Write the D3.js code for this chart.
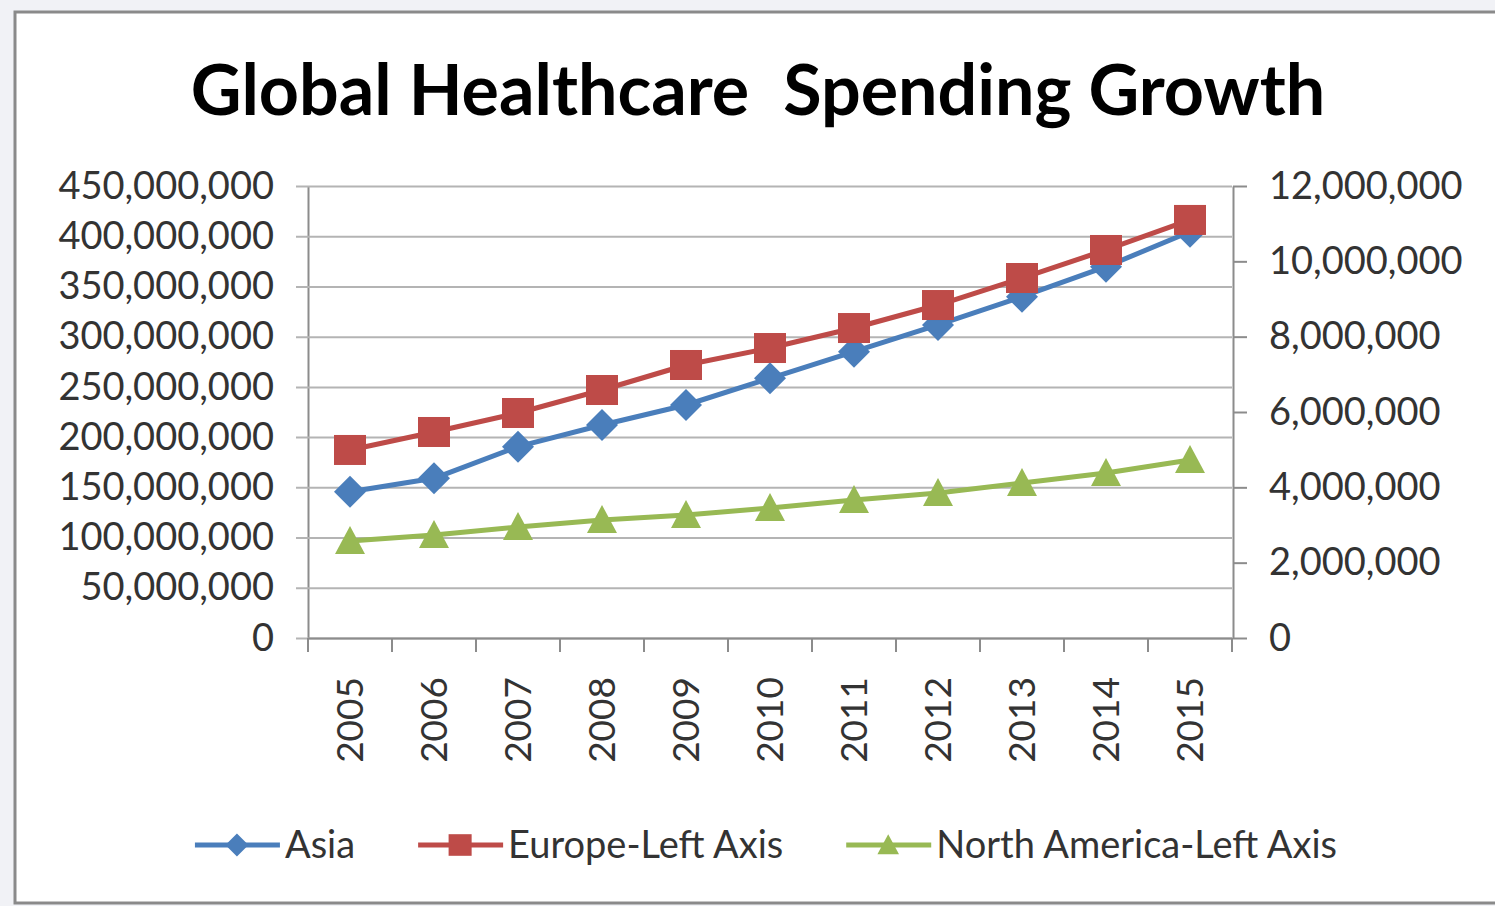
<!DOCTYPE html>
<html>
<head>
<meta charset="utf-8">
<script src="https://cdn.jsdelivr.net/npm/d3@7"></script>
<style>
  html, body { margin: 0; padding: 0; background: #f1f2f6; }
  svg { display: block; }
</style>
</head>
<body>
<svg id="chart" width="1495" height="906"></svg>
<script>
// years on the x axis
const years = ["2005","2006","2007","2008","2009","2010","2011","2012","2013","2014","2015"];
// Asia is plotted on the right axis
const asia = [3884000, 4240000, 5079000, 5655000, 6186000, 6895000, 7601000, 8310000, 9061000, 9857000, 10787000];
const europe = [187200000, 205100000, 224000000, 246900000, 271800000, 288700000, 308600000, 331500000, 358400000, 386300000, 416200000];
const northAmerica = [96600000, 102500000, 110500000, 117500000, 122500000, 129400000, 137400000, 144400000, 154300000, 164300000, 177200000];
const leftTicks = [0, 50000000, 100000000, 150000000, 200000000, 250000000, 300000000, 350000000, 400000000, 450000000];
const rightTicks = [0, 2000000, 4000000, 6000000, 8000000, 10000000, 12000000];

const svg = d3.select("#chart");
const font = "Lato, 'Open Sans', sans-serif";
const margin = {left: 308, right: 263, top: 186, bottom: 268};
const width = 1495, height = 906;

// white chart frame
svg.append("rect")
  .attr("x", 15).attr("y", 12)
  .attr("width", 1495).attr("height", 891)
  .attr("fill", "#fff").attr("stroke", "#8a8a8a").attr("stroke-width", 3);

svg.append("text")
  .attr("x", 758).attr("y", 115)
  .attr("text-anchor", "middle")
  .attr("font-family", font).attr("font-weight", "bold")
  .attr("font-size", 70).attr("fill", "#000")
  .attr("xml:space", "preserve")
  .text("Global Healthcare  Spending Growth");

let x = d3.scaleBand(years, [margin.left, width - margin.right]);
let yL = d3.scaleLinear([0, 450000000], [height - margin.bottom, margin.top]);
let yR = d3.scaleLinear([0, 12000000], [height - margin.bottom, margin.top]);
const fmt = d3.format(",");

// grid + left axis
let leftAxis = d3.axisLeft(yL).tickValues(leftTicks).tickFormat(fmt)
  .tickSizeInner(-(width - margin.right - margin.left) - 12).tickSizeOuter(0).tickPadding(34);
let gL = svg.append("g").attr("transform", `translate(${margin.left},0)`).call(leftAxis);
gL.selectAll(".tick line").attr("stroke", "#b4b4b4").attr("stroke-width", 2)
  .attr("x1", -12).attr("x2", width - margin.right - margin.left);
gL.select(".domain").attr("stroke", "#8c8c8c").attr("stroke-width", 2);
gL.selectAll("text").attr("font-family", font).attr("font-size", 38).attr("fill", "#333");

// right axis
let rightAxis = d3.axisRight(yR).tickValues(rightTicks).tickFormat(fmt)
  .tickSizeInner(14).tickSizeOuter(0).tickPadding(22);
let gR = svg.append("g").attr("transform", `translate(${width - margin.right + 1},0)`).call(rightAxis);
gR.selectAll(".tick line").attr("stroke", "#8c8c8c").attr("stroke-width", 2);
gR.select(".domain").attr("stroke", "#8c8c8c").attr("stroke-width", 2);
gR.selectAll("text").attr("font-family", font).attr("font-size", 38).attr("fill", "#333");

// x axis
let xAxis = d3.axisBottom(x).tickSize(0).tickPadding(0);
let gX = svg.append("g").attr("transform", `translate(0,${height - margin.bottom})`).call(xAxis);
gX.select(".domain").attr("stroke", "#8c8c8c").attr("stroke-width", 2);
gX.selectAll(".tick text")
  .attr("font-family", font).attr("font-size", 37).attr("fill", "#333")
  .attr("text-anchor", "end")
  .attr("transform", "translate(13,39) rotate(-90)")
  .attr("dy", 0).attr("y", 0);
let bounds = years.map(d => x(d)).concat([width - margin.right]);
gX.selectAll(".bound").data(bounds).join("line")
  .attr("x1", d => d).attr("x2", d => d)
  .attr("y1", 0).attr("y2", 14)
  .attr("stroke", "#8c8c8c").attr("stroke-width", 2);

const series = [
  {name: "Asia", values: asia, scale: yR, color: "#4a7ebb", shape: "diamond"},
  {name: "Europe-Left Axis", values: europe, scale: yL, color: "#be4b48", shape: "square"},
  {name: "North America-Left Axis", values: northAmerica, scale: yL, color: "#98b954", shape: "triangle"}
];

function marker(g, shape, color) {
  if (shape === "diamond") {
    g.append("path").attr("d", "M0,-16L16,0L0,16L-16,0Z").attr("fill", color);
  } else if (shape === "square") {
    g.append("rect").attr("x", -16).attr("y", -15).attr("width", 32).attr("height", 30).attr("fill", color);
  } else {
    g.append("path").attr("d", "M0,-15L15,13L-15,13Z").attr("fill", color);
  }
}

const cx = d => x(d) + x.bandwidth() / 2;

series.forEach(s => {
  let line = d3.line().x((v, i) => cx(years[i])).y(v => s.scale(v));
  svg.append("path").datum(s.values)
    .attr("d", line).attr("fill", "none")
    .attr("stroke", s.color).attr("stroke-width", 5).attr("stroke-linejoin", "round");
  s.values.forEach((v, i) => {
    let g = svg.append("g").attr("transform", `translate(${cx(years[i])},${s.scale(v)})`);
    marker(g, s.shape, s.color);
  });
});

// legend
let legend = svg.append("g");
let lx = 0;
series.forEach((s, i) => {
  let item = legend.append("g").attr("transform", `translate(${lx},0)`);
  item.append("line").attr("x1", 0).attr("x2", 85).attr("y1", 0).attr("y2", 0)
    .attr("stroke", s.color).attr("stroke-width", 5);
  let m = item.append("g").attr("transform", "translate(42,0) scale(0.72)");
  marker(m, s.shape, s.color);
  let t = item.append("text").attr("x", 90).attr("y", 0).attr("dy", "0.35em")
    .attr("font-family", font).attr("font-size", 38).attr("fill", "#333")
    .text(s.name);
  lx += 90 + t.node().getComputedTextLength() + 63;
});
let lw = lx - 63;
legend.attr("transform", `translate(${766 - lw / 2},845)`);
</script>
</body>
</html>
